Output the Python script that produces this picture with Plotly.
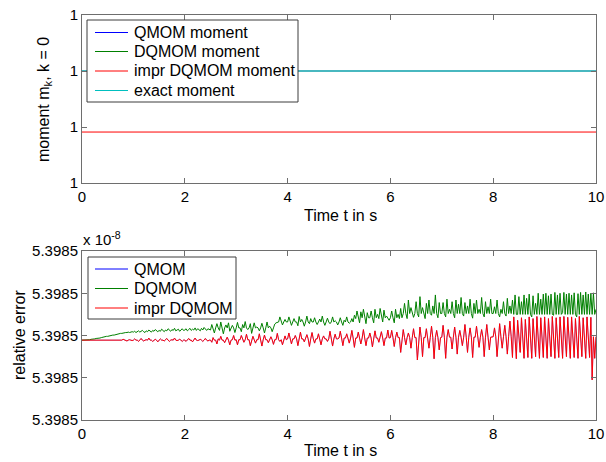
import plotly.graph_objects as go

# ---------------- data ----------------
# top panel (moment, shown in tick units; every tick reads "1")
top_time = [0, 10]
qmom_moment = [2.0, 2.0]
dqmom_moment = [2.0, 2.0]
impr_dqmom_moment = [0.91, 0.91]
exact_moment = [2.0, 2.0]
top_ytick_vals = [0, 1, 2, 3]
top_ytick_text = ["1", "1", "1", "1"]
top_names = ["QMOM moment", "DQMOM moment", "impr DQMOM moment", "exact moment"]

# bottom panel (relative error, offsets in tick units x100; every tick reads "5.3985")
err_time = [round(i * 0.025, 3) for i in range(401)]
dqmom_err = [
    189, 189, 189, 189, 190, 190, 190, 191, 191, 192, 192, 193, 193, 194, 194, 195, 196, 196, 197, 198,
    198, 199, 199, 200, 201, 201, 202, 202, 203, 204, 205, 205, 206, 206, 207, 207, 208, 207, 208, 209,
    208, 210, 207, 209, 211, 208, 210, 212, 209, 207, 211, 209, 213, 210, 208, 212, 210, 214, 211, 209,
    212, 210, 215, 211, 209, 213, 211, 216, 212, 210, 214, 212, 217, 211, 213, 215, 210, 214, 216, 212,
    213, 216, 211, 214, 217, 212, 215, 213, 218, 212, 216, 214, 211, 217, 213, 219, 214, 212, 216, 215,
    213, 226, 218, 206, 218, 228, 218, 212, 232, 218, 204, 218, 225, 218, 230, 210, 218, 224, 218, 207,
    218, 231, 218, 218, 209, 226, 218, 233, 218, 214, 218, 228, 205, 218, 230, 218, 220, 218, 211, 218,
    229, 218, 206, 218, 232, 218, 222, 218, 209, 218, 227, 230, 232, 232, 244, 232, 225, 232, 238, 232,
    232, 244, 232, 224, 232, 240, 232, 232, 223, 245, 232, 238, 232, 222, 232, 246, 232, 228, 240, 232,
    232, 242, 232, 226, 232, 239, 232, 246, 232, 224, 232, 241, 232, 228, 232, 244, 232, 235, 232, 225,
    232, 242, 232, 224, 236, 232, 244, 232, 229, 232, 240, 232, 248, 240, 258, 240, 230, 256, 242, 262,
    240, 228, 254, 242, 242, 258, 242, 230, 262, 242, 250, 240, 264, 242, 232, 260, 242, 246, 242, 236,
    242, 258, 242, 230, 262, 242, 250, 240, 264, 242, 252, 276, 252, 240, 284, 252, 266, 252, 243, 252,
    280, 252, 244, 292, 252, 266, 252, 240, 276, 252, 284, 252, 248, 270, 252, 296, 252, 242, 278, 252,
    252, 278, 252, 244, 286, 252, 262, 252, 280, 252, 242, 284, 252, 274, 252, 290, 252, 246, 278, 252,
    270, 252, 286, 252, 241, 276, 252, 284, 252, 262, 252, 290, 252, 244, 280, 252, 268, 252, 286, 252,
    252, 268, 252, 284, 252, 244, 262, 252, 280, 252, 246, 288, 252, 270, 252, 284, 250, 296, 250, 250,
    292, 250, 280, 250, 296, 250, 288, 250, 298, 250, 244, 294, 250, 276, 250, 300, 250, 286, 250, 298,
    250, 300, 250, 294, 250, 298, 250, 248, 302, 250, 296, 250, 300, 250, 254, 302, 250, 298, 250, 300,
    250, 296, 250, 301, 250, 244, 299, 250, 302, 250, 296, 250, 303, 250, 298, 250, 300, 250, 301, 250,
    262,
]
impr_dqmom_err = [
    189, 189, 189, 189, 189, 189, 189, 189, 189, 189, 189, 189, 189, 189, 189, 189, 189, 189, 189, 189,
    189, 189, 189, 189, 189, 189, 189, 189, 189, 189, 189, 189, 191, 189, 189, 187, 189, 190, 189, 188,
    189, 192, 189, 189, 186, 189, 193, 189, 187, 189, 190, 189, 194, 189, 189, 186, 189, 191, 189, 185,
    189, 192, 189, 189, 187, 189, 193, 189, 186, 189, 190, 189, 194, 189, 188, 189, 191, 189, 186, 189,
    189, 186, 190, 193, 189, 189, 185, 189, 194, 189, 188, 189, 191, 189, 186, 189, 193, 189, 187, 189,
    189, 184, 195, 189, 189, 180, 192, 189, 198, 189, 189, 183, 189, 196, 189, 178, 189, 190, 200, 189,
    190, 178, 190, 190, 200, 190, 184, 190, 203, 190, 190, 176, 190, 198, 190, 182, 190, 190, 204, 190,
    175, 190, 201, 190, 190, 183, 190, 197, 190, 179, 190, 190, 205, 190, 186, 190, 178, 190, 199, 190,
    192, 206, 192, 180, 192, 192, 200, 192, 176, 192, 208, 192, 192, 185, 192, 202, 192, 174, 192, 207,
    192, 182, 192, 192, 204, 192, 178, 192, 199, 192, 192, 186, 192, 210, 192, 175, 192, 203, 192, 192,
    194, 210, 194, 176, 194, 194, 204, 194, 182, 194, 212, 194, 172, 194, 194, 208, 194, 180, 194, 214,
    194, 176, 194, 194, 206, 194, 173, 194, 211, 194, 194, 184, 194, 209, 194, 176, 194, 194, 213, 194,
    195, 212, 195, 174, 195, 208, 195, 195, 160, 195, 214, 195, 178, 195, 206, 195, 170, 195, 216, 195,
    195, 142, 195, 220, 195, 150, 195, 195, 216, 195, 170, 195, 222, 195, 145, 195, 212, 195, 166, 195,
    196, 224, 196, 146, 196, 214, 196, 196, 168, 196, 220, 196, 156, 196, 212, 196, 176, 196, 226, 196,
    160, 196, 218, 196, 148, 196, 196, 222, 196, 172, 196, 214, 196, 150, 196, 226, 196, 166, 196, 196,
    197, 218, 197, 150, 197, 228, 197, 170, 197, 224, 197, 156, 197, 234, 197, 148, 244, 197, 145, 236,
    197, 160, 242, 197, 146, 238, 197, 148, 244, 197, 146, 240, 197, 150, 245, 197, 146, 242, 197, 148,
    244, 197, 146, 240, 197, 150, 245, 197, 146, 242, 197, 148, 244, 197, 146, 245, 197, 150, 243, 197,
    146, 244, 197, 148, 240, 197, 146, 245, 197, 150, 242, 197, 146, 244, 197, 148, 243, 95, 197, 146,
    197,
]
qmom_err = list(impr_dqmom_err)
bottom_ytick_vals = [0, 1, 2, 3, 4]
bottom_ytick_text = ["5.3985"] * 5
bottom_names = ["QMOM", "DQMOM", "impr DQMOM"]
xtick_vals = [0, 2, 4, 6, 8, 10]

# ---------------- figure ----------------
BLUE, GREEN, RED, CYAN = "#0000ff", "#008000", "#ff0000", "#00bfbf"
FONT = "Liberation Sans, Arial, sans-serif"
W, H = 606, 462


def px(x):
    return x / W


def py(y):
    return 1 - y / H


fig = go.Figure()
top_series = [qmom_moment, dqmom_moment, impr_dqmom_moment, exact_moment]
top_colors = [BLUE, GREEN, RED, CYAN]
top_widths = [0.5, 0.5, 1, 1]
for name, vals, col, lw in zip(top_names, top_series, top_colors, top_widths):
    fig.add_trace(go.Scatter(x=top_time, y=vals, mode="lines", name=name, showlegend=False,
                             line=dict(color=col, width=lw), xaxis="x", yaxis="y"))

bottom_series = [qmom_err, dqmom_err, impr_dqmom_err]
bottom_colors = [BLUE, GREEN, RED]
bottom_widths = [0.4, 1, 1]
for name, vals, col, lw in zip(bottom_names, bottom_series, bottom_colors, bottom_widths):
    fig.add_trace(go.Scatter(x=err_time, y=[v / 100 for v in vals], mode="lines", name=name,
                             showlegend=False, line=dict(color=col, width=lw),
                             xaxis="x2", yaxis="y2"))

xdom = [px(82), px(596)]
axis_common = dict(showgrid=False, zeroline=False, showline=True, linecolor="#6e6e6e", linewidth=1,
                   mirror="ticks", ticks="inside", ticklen=5, tickcolor="#6e6e6e",
                   tickfont=dict(family=FONT, size=15, color="#000"), automargin=False)

fig.update_layout(
    width=W, height=H, margin=dict(l=0, r=0, t=0, b=0),
    paper_bgcolor="white", plot_bgcolor="white",
    font=dict(family=FONT, size=16, color="#000"),
    showlegend=False,
    xaxis=dict(domain=xdom, anchor="y", range=[0, 10], tickvals=xtick_vals, **axis_common),
    yaxis=dict(domain=[py(183), py(15)], anchor="x", range=[0, 3],
               tickvals=top_ytick_vals, ticktext=top_ytick_text, **axis_common),
    xaxis2=dict(domain=xdom, anchor="y2", range=[0, 10], tickvals=xtick_vals, **axis_common),
    yaxis2=dict(domain=[py(420), py(251)], anchor="x2", range=[0, 4],
                tickvals=bottom_ytick_vals, ticktext=bottom_ytick_text, **axis_common),
)

shapes = []
ann = []


def add_legend(box, rows_y, names, colors):
    x0, y0, x1, y1 = box
    shapes.append(dict(type="rect", xref="paper", yref="paper", x0=px(x0), x1=px(x1),
                       y0=py(y1), y1=py(y0), fillcolor="white", line=dict(color="#3c3c3c", width=1),
                       layer="above"))
    for yy, nm, col in zip(rows_y, names, colors):
        shapes.append(dict(type="line", xref="paper", yref="paper", x0=px(95), x1=px(128),
                           y0=py(yy), y1=py(yy), line=dict(color=col, width=1), layer="above"))
        ann.append(dict(text=nm, x=px(132), y=py(yy), xref="paper", yref="paper", showarrow=False,
                        xanchor="left", yanchor="middle", font=dict(family=FONT, size=16, color="#000")))


add_legend((87, 20, 298, 102), [32.5, 51.5, 71, 90.5], top_names, top_colors)
add_legend((88, 257, 236, 319), [269, 288.5, 308], bottom_names, bottom_colors)

ann.append(dict(text="Time t in s", x=px(340), y=py(215), xref="paper", yref="paper",
                showarrow=False, font=dict(family=FONT, size=16), xanchor="center", yanchor="middle"))
ann.append(dict(text="Time t in s", x=px(340), y=py(450), xref="paper", yref="paper",
                showarrow=False, font=dict(family=FONT, size=16), xanchor="center", yanchor="middle"))
ann.append(dict(text="moment m<sub>k</sub>, k = 0", x=px(44), y=py(100), xref="paper", yref="paper",
                showarrow=False, textangle=-90, font=dict(family=FONT, size=16),
                xanchor="center", yanchor="middle"))
ann.append(dict(text="relative error", x=px(19), y=py(335), xref="paper", yref="paper",
                showarrow=False, textangle=-90, font=dict(family=FONT, size=16),
                xanchor="center", yanchor="middle"))
ann.append(dict(text="x 10<sup>-8</sup>", x=px(81), y=py(238), xref="paper", yref="paper",
                showarrow=False, font=dict(family=FONT, size=15), xanchor="left", yanchor="middle"))
fig.update_layout(annotations=ann, shapes=shapes)

fig.write_html("out.html", config={"displayModeBar": False},
               post_script="document.body.style.margin='0';document.body.style.overflow='hidden';")
